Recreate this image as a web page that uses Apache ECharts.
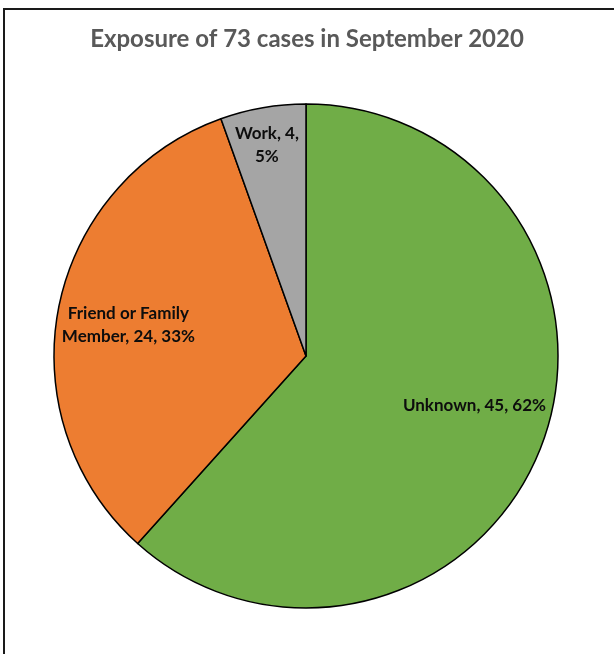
<!DOCTYPE html>
<html>
<head>
<meta charset="utf-8">
<script src="https://cdn.jsdelivr.net/npm/echarts@6/dist/echarts.min.js"></script>
<style>
html,body{margin:0;padding:0;background:#fff;}
#chart{width:614px;height:654px;}
</style>
</head>
<body>
<div id="chart"></div>
<script>
const titleText = 'Exposure of 73 cases in September 2020';
const categories = ['Unknown', 'Friend or Family Member', 'Work'];
const values = [45, 24, 4];
const colors = ['#70AD47', '#ED7D31', '#A5A5A5'];
// label text templates (line-breaking like the reference)
const labelTemplates = ['{n}, {v}, {p}%', 'Friend or Family\nMember, {v}, {p}%', '{n}, {v},\n{p}%'];
// label shifts from ECharts' default inside position
const labelShift = [[48, 3], [-51, -6], [-17, -84]];

const chart = echarts.init(document.getElementById('chart'), null, {renderer: 'canvas'});
chart.setOption({
  backgroundColor: '#fff',
  animation: false,
  title: {
    text: titleText,
    left: 'center',
    top: 22,
    textStyle: {fontFamily: 'Lato', fontWeight: 'bold', fontSize: 24, color: '#595959'}
  },
  graphic: [
    {type: 'line', shape: {x1: 3, y1: 9, x2: 614, y2: 9}, style: {stroke: '#1a1a1a', lineWidth: 2}},
    {type: 'line', shape: {x1: 4, y1: 8, x2: 4, y2: 654}, style: {stroke: '#1a1a1a', lineWidth: 2}}
  ],
  series: [{
    type: 'pie',
    center: [306, 356],
    radius: [0, 252],
    startAngle: 90,
    clockwise: true,
    percentPrecision: 0,
    itemStyle: {borderColor: '#000', borderWidth: 1.5},
    label: {
      show: true,
      position: 'inside',
      fontFamily: 'Lato',
      fontWeight: 'bold',
      fontSize: 17,
      lineHeight: 23,
      color: '#0d0d0d',
      formatter: function (p) {
        return labelTemplates[p.dataIndex]
          .replace('{n}', p.name).replace('{v}', p.value).replace('{p}', p.percent);
      }
    },
    labelLine: {show: false},
    labelLayout: function (p) {
      const s = labelShift[p.dataIndex];
      return {dx: s[0], dy: s[1]};
    },
    emphasis: {disabled: true},
    data: categories.map((c, i) => ({name: c, value: values[i], itemStyle: {color: colors[i]}}))
  }]
});
</script>
</body>
</html>
